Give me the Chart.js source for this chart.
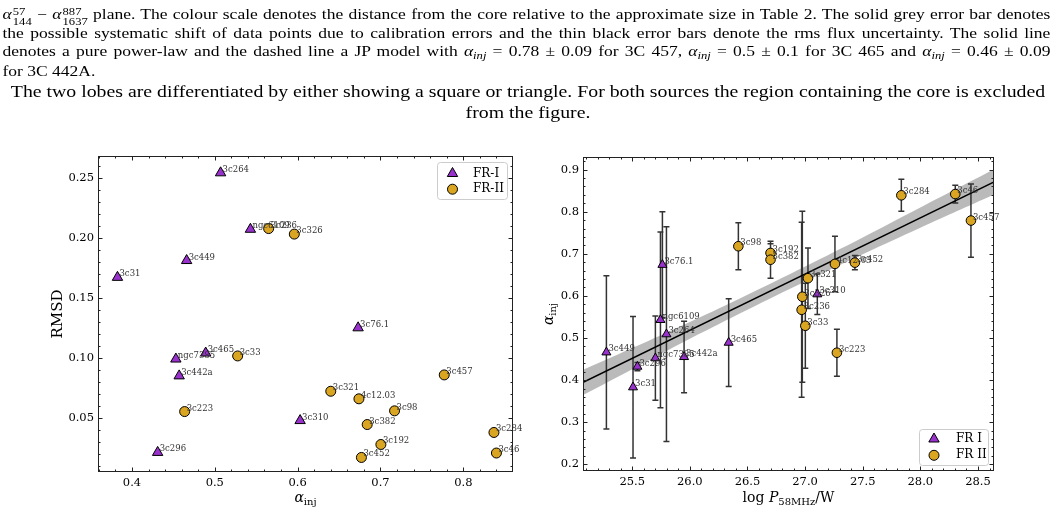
<!DOCTYPE html>
<html>
<head>
<meta charset="utf-8">
<script src="https://cdn.jsdelivr.net/npm/chart.js@4.4.0/dist/chart.umd.min.js"></script>
<style>
body { margin: 0; width: 1056px; height: 512px; background: #fff; overflow: hidden; position: relative; font-family: "Liberation Serif", serif; color: #000; }
.cap { position: absolute; left: 0; top: 0; transform: scaleX(1.2); transform-origin: 0 0; }
.jl { position: absolute; left: 2px; font-size: 14.6px; line-height: 18px; white-space: nowrap; }
.ctr { position: absolute; left: 0; width: 880px; font-size: 16.5px; line-height: 18px; text-align: center; white-space: nowrap; }
.ss { display: inline-block; vertical-align: -6px; font-size: 10.5px; line-height: 10px; text-align: left; margin-left: 1px; }
.ss > span { display: block; }
sub { font-size: 10.5px; vertical-align: -3px; line-height: 0; }
.box { position: absolute; top: 130px; height: 382px; }
</style>
</head>
<body>
<div class="cap">
<div class="jl just" style="top:5px"><i>α</i><span class="ss"><span>57</span><span>144</span></span> − <i>α</i><span class="ss"><span>887</span><span>1637</span></span> plane. The colour scale denotes the distance from the core relative to the approximate size in Table 2. The solid grey error bar denotes</div>
<div class="jl just" style="top:24px">the possible systematic shift of data points due to calibration errors and the thin black error bars denote the rms flux uncertainty. The solid line</div>
<div class="jl just" style="top:42px">denotes a pure power-law and the dashed line a JP model with <i>α<sub>inj</sub></i> = 0.78 ± 0.09 for 3C 457, <i>α<sub>inj</sub></i> = 0.5 ± 0.1 for 3C 465 and <i>α<sub>inj</sub></i> = 0.46 ± 0.09</div>
<div class="jl" style="top:62px">for 3C 442A.</div>
<div class="ctr" style="top:83px">The two lobes are differentiated by either showing a square or triangle. For both sources the region containing the core is excluded</div>
<div class="ctr" style="top:104px">from the figure.</div>
</div>

<div class="box" style="left:0;width:530px"><canvas id="left"></canvas></div>
<div class="box" style="left:530px;width:526px"><canvas id="right"></canvas></div>

<script>
// stretch the word gaps so each caption line fills the width
var SX = 1.2;
document.querySelectorAll('.just').forEach(function (el) {
    var n = (el.textContent.match(/ /g) || []).length;
    var w = el.getBoundingClientRect().width / SX;
    el.style.wordSpacing = ((1048 / SX - w) / n) + 'px';
});

// ---- left panel: RMSD vs alpha_inj ----
var leftXTicks = [0.4, 0.5, 0.6, 0.7, 0.8];
var leftYTicks = [0.05, 0.10, 0.15, 0.20, 0.25];

var leftFR1Names = ['3c264', 'ngc6109', '3c449', '3c31', '3c76.1', 'ngc7385', '3c465', '3c442a', '3c296', '3c310'];
var leftFR1X = [0.507, 0.543, 0.466, 0.3825, 0.673, 0.453, 0.489, 0.457, 0.431, 0.603];
var leftFR1Y = [0.254, 0.207, 0.181, 0.167, 0.125, 0.099, 0.104, 0.085, 0.0213, 0.0478];

var leftFR2Names = ['3c236', '3c326', '3c33', '3c223', '3c457', '3c321', '4c12.03', '3c98', '3c382', '3c284', '3c192', '3c46', '3c452'];
var leftFR2X = [0.565, 0.596, 0.5276, 0.4636, 0.777, 0.640, 0.674, 0.717, 0.684, 0.837, 0.7005, 0.840, 0.677];
var leftFR2Y = [0.2076, 0.203, 0.1016, 0.0553, 0.0858, 0.0722, 0.0659, 0.0559, 0.0445, 0.0379, 0.0279, 0.0208, 0.0171];

// ---- right panel: alpha_inj vs log P ----
var rightXTicks = [25.5, 26.0, 26.5, 27.0, 27.5, 28.0, 28.5];
var rightYTicks = [0.2, 0.3, 0.4, 0.5, 0.6, 0.7, 0.8, 0.9];

var rightFR1Names = ['3c449', '3c31', '3c296', 'ngc7385', 'ngc6109', '3c76.1', '3c264', '3c442a', '3c465', '3c310'];
var rightFR1X = [25.276, 25.507, 25.545, 25.701, 25.745, 25.762, 25.797, 25.95, 26.337, 27.106];
var rightFR1Y = [0.466, 0.383, 0.432, 0.452, 0.543, 0.674, 0.509, 0.455, 0.489, 0.604];
var rightFR1Err = [0.182, 0.168, 0.010, 0.100, 0.209, 0.126, 0.255, 0.085, 0.104, 0.048];

var rightFR2Names = ['3c98', '3c192', '3c382', '3c326', '3c236', '3c33', '3c321', '3c223', '4c12.03', '3c452', '3c284', '3c46', '3c457'];
var rightFR2X = [26.421, 26.70, 26.70, 26.976, 26.97, 27.002, 27.025, 27.276, 27.259, 27.432, 27.835, 28.303, 28.439];
var rightFR2Y = [0.718, 0.702, 0.686, 0.598, 0.567, 0.529, 0.642, 0.465, 0.676, 0.679, 0.839, 0.842, 0.779];
var rightFR2Err = [0.056, 0.022, 0.044, 0.203, 0.208, 0.101, 0.072, 0.056, 0.066, 0.017, 0.038, 0.021, 0.087];

// fit line and its band
var fitX = [25.07, 28.64];
var fitY = [0.394, 0.871];
var bandX = [25.07, 25.5, 26.0, 26.5, 27.0, 27.5, 28.0, 28.64];
var bandUp = [0.424, 0.476, 0.538, 0.603, 0.670, 0.739, 0.810, 0.901];
var bandLo = [0.364, 0.426, 0.498, 0.567, 0.634, 0.699, 0.762, 0.841];

var PURPLE = '#9932CC';
var GOLD = '#DAA520';
var SERIF = '"DejaVu Serif", serif';

function pts(xs, ys) {
    return xs.map(function (x, i) { return {x: x, y: ys[i]}; });
}

function steps(a, b, s) { // minor tick positions
    var out = [];
    for (var v = a; v <= b + 1e-9; v += s) out.push(Math.round(v * 1000) / 1000);
    return out;
}

function line(ctx, x1, y1, x2, y2) { ctx.moveTo(x1, y1); ctx.lineTo(x2, y2); }

// text with a subscript etc: parts = [[text, font, dy]]
function mathText(ctx, parts, x, y, rot) {
    ctx.save();
    ctx.translate(x, y);
    if (rot) ctx.rotate(-Math.PI / 2);
    var w = 0;
    parts.forEach(function (p) { ctx.font = p[1]; w += ctx.measureText(p[0]).width; });
    var cx = -w / 2;
    ctx.fillStyle = '#000';
    ctx.textBaseline = 'alphabetic';
    ctx.textAlign = 'left';
    parts.forEach(function (p) {
        ctx.font = p[1];
        ctx.fillText(p[0], cx, p[2] || 0);
        cx += ctx.measureText(p[0]).width;
    });
    ctx.restore();
}

function marker(ctx, style, x, y, r, color) {
    ctx.fillStyle = color;
    ctx.strokeStyle = '#000';
    ctx.lineWidth = 1;
    Chart.helpers.drawPoint(ctx, {pointStyle: style, radius: r, rotation: 0, borderWidth: 1}, x, y);
}

function deco(cfg) {
    return {
        id: 'deco',
        beforeDatasetDraw: function (chart, args) {
            if (!cfg.errors || args.index !== cfg.errIndex) return;
            var ctx = chart.ctx, sx = chart.scales.x, sy = chart.scales.y;
            ctx.save();
            ctx.strokeStyle = '#333';
            ctx.lineWidth = 1.5;
            ctx.beginPath();
            cfg.errors.forEach(function (g) {
                g[0].forEach(function (xv, i) {
                    var px = sx.getPixelForValue(xv);
                    var t = sy.getPixelForValue(g[1][i] + g[2][i]);
                    var b = sy.getPixelForValue(g[1][i] - g[2][i]);
                    line(ctx, px, t, px, b);
                    line(ctx, px - 3, t, px + 3, t);
                    line(ctx, px - 3, b, px + 3, b);
                });
            });
            ctx.stroke();
            ctx.restore();
        },
        afterDatasetsDraw: function (chart) {
            var ctx = chart.ctx, sx = chart.scales.x, sy = chart.scales.y;
            ctx.save();
            ctx.font = '8.5px ' + SERIF;
            ctx.fillStyle = '#333';
            ctx.textBaseline = 'alphabetic';
            cfg.labels.forEach(function (g) {
                g[0].forEach(function (n, i) {
                    ctx.fillText(n, sx.getPixelForValue(g[1][i]) + 2, sy.getPixelForValue(g[2][i]) - 1);
                });
            });
            ctx.restore();
        },
        afterDraw: function (chart) {
            var ctx = chart.ctx, a = chart.chartArea, sx = chart.scales.x, sy = chart.scales.y;
            ctx.save();
            // frame
            ctx.strokeStyle = '#222';
            ctx.lineWidth = 1;
            ctx.strokeRect(Math.round(a.left) + 0.5, Math.round(a.top) + 0.5, Math.round(a.right - a.left) - 1, Math.round(a.bottom - a.top) - 1);
            // inward ticks on all four sides
            ctx.beginPath();
            function tx(v, len) {
                var p = Math.round(sx.getPixelForValue(v)) + 0.5;
                if (p < a.left || p > a.right) return;
                line(ctx, p, a.bottom, p, a.bottom - len);
                line(ctx, p, a.top, p, a.top + len);
            }
            function ty(v, len) {
                var p = Math.round(sy.getPixelForValue(v)) + 0.5;
                if (p < a.top || p > a.bottom) return;
                line(ctx, a.left, p, a.left + len, p);
                line(ctx, a.right, p, a.right - len, p);
            }
            cfg.xMajor.forEach(function (v) { tx(v, 4.5); });
            cfg.xMinor.forEach(function (v) { tx(v, 2.5); });
            cfg.yMajor.forEach(function (v) { ty(v, 4.5); });
            cfg.yMinor.forEach(function (v) { ty(v, 2.5); });
            ctx.stroke();

            // legend
            var L = cfg.legend;
            ctx.fillStyle = 'rgba(255,255,255,0.8)';
            ctx.strokeStyle = '#ccc';
            ctx.beginPath();
            ctx.roundRect(L.x + 0.5, L.y + 0.5, L.w, L.h, 3);
            ctx.fill();
            ctx.stroke();
            ctx.font = '12px ' + SERIF;
            ctx.textBaseline = 'middle';
            L.items.forEach(function (it, i) {
                var yy = L.y + L.first + i * L.gap;
                marker(ctx, it[1], L.x + L.mx, yy, it[1] === 'triangle' ? 6 : 5, it[2]);
                ctx.fillStyle = '#000';
                ctx.fillText(it[0], L.x + L.tx, yy);
            });

            // axis titles
            cfg.titles.forEach(function (t) { mathText(ctx, t[0], t[1], t[2], t[3]); });
            ctx.restore();
        }
    };
}

function makeChart(id, opt) {
    return new Chart(document.getElementById(id), {
        type: 'scatter',
        data: {datasets: opt.datasets},
        options: {
            responsive: true,
            maintainAspectRatio: false,
            animation: false,
            events: [],
            layout: {padding: opt.padding},
            plugins: {legend: {display: false}, tooltip: {enabled: false}},
            scales: {
                x: {
                    type: 'linear', min: opt.xr[0], max: opt.xr[1],
                    grid: {display: false, drawTicks: false}, border: {display: false},
                    afterBuildTicks: function (s) { s.ticks = opt.xt.map(function (v) { return {value: v}; }); },
                    afterFit: function (s) { s.height = opt.xh; },
                    ticks: {font: {family: SERIF, size: 11.5}, color: '#000', padding: 4, maxRotation: 0,
                        callback: function (v) { return v.toFixed(opt.xd); }}
                },
                y: {
                    type: 'linear', min: opt.yr[0], max: opt.yr[1],
                    grid: {display: false, drawTicks: false}, border: {display: false},
                    afterBuildTicks: function (s) { s.ticks = opt.yt.map(function (v) { return {value: v}; }); },
                    afterFit: function (s) { s.width = opt.yw; },
                    ticks: {font: {family: SERIF, size: 11.5}, color: '#000', padding: 4,
                        callback: function (v) { return v.toFixed(opt.yd); }}
                }
            }
        },
        plugins: [deco(opt.deco)]
    });
}

makeChart('left', {
    xr: [0.359, 0.86], yr: [0.005, 0.268], xt: leftXTicks, yt: leftYTicks, xd: 1, yd: 2,
    padding: {top: 26, right: 17, left: 0, bottom: 0}, xh: 40, yw: 98,
    datasets: [
        {label: 'FR-II', data: pts(leftFR2X, leftFR2Y), pointStyle: 'circle', pointRadius: 5, backgroundColor: GOLD, borderColor: '#000', borderWidth: 1},
        {label: 'FR-I', data: pts(leftFR1X, leftFR1Y), pointStyle: 'triangle', pointRadius: 6, backgroundColor: PURPLE, borderColor: '#000', borderWidth: 1}
    ],
    deco: {
        xMajor: leftXTicks, xMinor: steps(0.36, 0.86, 0.02),
        yMajor: leftYTicks, yMinor: steps(0.01, 0.26, 0.01),
        labels: [[leftFR1Names, leftFR1X, leftFR1Y], [leftFR2Names, leftFR2X, leftFR2Y]],
        legend: {x: 437, y: 32, w: 70, h: 37, first: 11.5, gap: 15.7, mx: 15.5, tx: 36,
            items: [['FR-I', 'triangle', PURPLE], ['FR-II', 'circle', GOLD]]},
        titles: [
            [[['RMSD', '15px ' + SERIF, 0]], 62, 184, true],
            [[['α', 'italic 14px ' + SERIF, 0], ['inj', '10px ' + SERIF, 3]], 305.5, 372, false]
        ]
    }
});

makeChart('right', {
    xr: [25.073, 28.639], yr: [0.184, 0.930], xt: rightXTicks, yt: rightYTicks, xd: 1, yd: 1,
    padding: {top: 27, right: 62, left: 0, bottom: 0}, xh: 41, yw: 53,
    datasets: [
        {label: 'FR II', data: pts(rightFR2X, rightFR2Y), pointStyle: 'circle', pointRadius: 4.8, backgroundColor: GOLD, borderColor: '#000', borderWidth: 1},
        {label: 'FR I', data: pts(rightFR1X, rightFR1Y), pointStyle: 'triangle', pointRadius: 5.2, backgroundColor: PURPLE, borderColor: '#000', borderWidth: 1},
        {type: 'line', label: 'fit', data: pts(fitX, fitY), borderColor: '#000', borderWidth: 1.5, pointRadius: 0, fill: false},
        {type: 'line', label: 'band up', data: pts(bandX, bandUp), borderWidth: 0, pointRadius: 0, tension: 0.4,
            backgroundColor: 'rgba(140,140,140,0.6)', fill: '+1'},
        {type: 'line', label: 'band lo', data: pts(bandX, bandLo), borderWidth: 0, pointRadius: 0, tension: 0.4, fill: false}
    ],
    deco: {
        errIndex: 2,
        errors: [[rightFR1X, rightFR1Y, rightFR1Err], [rightFR2X, rightFR2Y, rightFR2Err]],
        xMajor: rightXTicks, xMinor: steps(25.1, 28.6, 0.1),
        yMajor: rightYTicks, yMinor: steps(0.2, 0.92, 0.02),
        labels: [[rightFR1Names, rightFR1X, rightFR1Y], [rightFR2Names, rightFR2X, rightFR2Y]],
        legend: {x: 389, y: 299, w: 69, h: 36, first: 10, gap: 16.3, mx: 15, tx: 37,
            items: [['FR I', 'triangle', PURPLE], ['FR II', 'circle', GOLD]]},
        titles: [
            [[['α', 'italic 14px ' + SERIF, 0], ['inj', '10px ' + SERIF, 3]], 23, 184, true],
            [[['log ', '14px ' + SERIF, 0], ['P', 'italic 14px ' + SERIF, 0], ['58MHz', '10px ' + SERIF, 3], ['/W', '14px ' + SERIF, 0]], 258.5, 372, false]
        ]
    }
});
</script>
</body>
</html>
